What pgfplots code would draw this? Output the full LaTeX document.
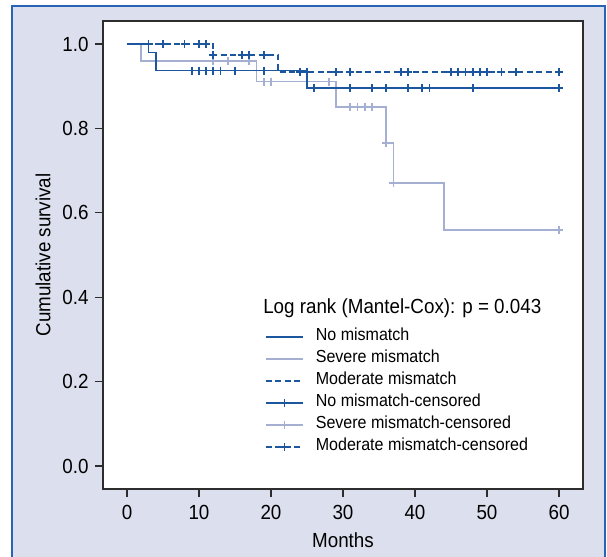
\documentclass[border=0pt]{standalone}
\usepackage{fontspec}
\setmainfont{Liberation Sans}[FakeStretch=0.92]
\usepackage{pgfplots}
\pgfplotsset{compat=1.18}
\definecolor{darkb}{RGB}{28,86,158}
\definecolor{lightb}{RGB}{165,175,210}
\definecolor{bgl}{RGB}{220,223,237}
\definecolor{bord}{RGB}{40,100,180}
\definecolor{framec}{RGB}{45,45,45}
\begin{document}
\begin{tikzpicture}
\useasboundingbox (-103bp,-68bp) rectangle (504bp,489bp);
\fill[bgl] (-91bp,-80bp) rectangle (502bp,483bp);
\draw[bord, line width=1.5bp] (-91bp,-80bp) -- (-91bp,483bp) -- (502bp,483bp) -- (502bp,-80bp);
\begin{axis}[
  at={(0,0)}, anchor=south west, scale only axis,
  width=480bp, height=468bp,
  xmin=-3.333, xmax=63.333, ymin=-0.0545, ymax=1.0545,
  axis background/.style={fill=white},
  axis line style={framec, line width=1.8bp},
  xtick={0,10,20,30,40,50,60}, ytick={0,0.2,0.4,0.6,0.8,1.0},
  yticklabel style={/pgf/number format/fixed, /pgf/number format/fixed zerofill, /pgf/number format/precision=1, xshift=-3bp},
  xticklabel style={yshift=-5bp},
  tick align=outside, major tick length=8bp,
  xtick pos=bottom, ytick pos=left,
  tick style={framec, line width=1.3bp},
  ticklabel style={font=\fontsize{20.5}{23}\selectfont},
  /pgf/number format/assume math mode=true,
  xlabel={Months}, ylabel={Cumulative survival},
  label style={font=\fontsize{20.5}{23}\selectfont},
  xlabel style={at={(axis description cs:0.5,-0.126)}, anchor=base},
  ylabel style={at={(axis description cs:-0.125,0.5)}, anchor=center},
  legend cell align=left,
  legend style={at={(axis cs:19.17,0.3325)}, anchor=north west, draw=none, fill=none,
    inner sep=0pt, outer sep=0pt, row sep=0pt,
    font=\fontsize{17.5}{20}\selectfont,
    nodes={inner sep=0pt, text height=15bp, text depth=7bp}},
  legend image code/.code={\draw[mark repeat=2,mark phase=2,#1] plot coordinates {(0bp,0bp) (18.5bp,0bp) (37bp,0bp)}; \path (49bp,0bp);},
]
% Severe mismatch
\addplot[const plot, lightb, line width=1.8bp, forget plot] coordinates {
 (0,1) (2,0.960) (18,0.911) (29,0.851) (36,0.765) (37,0.670) (44,0.559) (60,0.559)};
\addplot[only marks, lightb, mark=+, mark size=4bp, mark options={line width=1.8bp}, forget plot] coordinates {
 (12,0.960) (14,0.960) (17,0.960) (19,0.911) (20,0.911) (28,0.911)
 (31,0.851) (32,0.851) (33,0.851) (34,0.851) (36,0.765) (37,0.670) (60,0.559)};
% No mismatch
\addplot[const plot, darkb, line width=1.8bp, forget plot] coordinates {
 (0,1) (3,0.980) (4,0.937) (25,0.895) (60,0.895)};
\addplot[only marks, darkb, mark=+, mark size=4bp, mark options={line width=1.8bp}, forget plot] coordinates {
 (9,0.937) (10,0.937) (11,0.937) (12,0.937) (13,0.937) (15,0.937) (19,0.937)
 (26,0.895) (31,0.895) (34,0.895) (36,0.895) (39,0.895) (41,0.895) (42,0.895) (48,0.895) (60,0.895)};
% Moderate mismatch
\addplot[const plot, darkb, line width=1.8bp, dash pattern=on 6bp off 3.5bp, forget plot] coordinates {
 (0,1) (12,0.974) (21,0.934) (60,0.934)};
\addplot[only marks, darkb, mark=+, mark size=4bp, mark options={line width=1.8bp}, forget plot] coordinates {
 (3,1) (5,1) (8,1) (10,1) (11,1)
 (12,0.974) (16,0.974) (17,0.974) (19,0.974)
 (24,0.934) (25,0.934) (29,0.934) (31,0.934) (38,0.934) (39,0.934) (45,0.934) (46,0.934)
 (47,0.934) (48,0.934) (49,0.934) (50,0.934) (52,0.934) (54,0.934) (60,0.934)};
\node[anchor=base west, inner sep=0pt, font=\fontsize{20.5}{23}\selectfont] at (axis cs:18.9,0.362) {Log rank (Mantel-Cox): p = 0.043};
\addlegendimage{darkb, line width=1.8bp}
\addlegendentry{No mismatch}
\addlegendimage{lightb, line width=1.8bp}
\addlegendentry{Severe mismatch}
\addlegendimage{darkb, line width=1.8bp, dash pattern=on 6bp off 3.5bp}
\addlegendentry{Moderate mismatch}
\addlegendimage{darkb, line width=1.8bp, mark=+, mark size=4bp, mark options={solid}}
\addlegendentry{No mismatch-censored}
\addlegendimage{lightb, line width=1.8bp, mark=+, mark size=4bp, mark options={solid}}
\addlegendentry{Severe mismatch-censored}
\addlegendimage{darkb, line width=1.8bp, dash pattern=on 6bp off 3.5bp, mark=+, mark size=4bp, mark options={solid}}
\addlegendentry{Moderate mismatch-censored}
\end{axis}
\end{tikzpicture}
\end{document}
